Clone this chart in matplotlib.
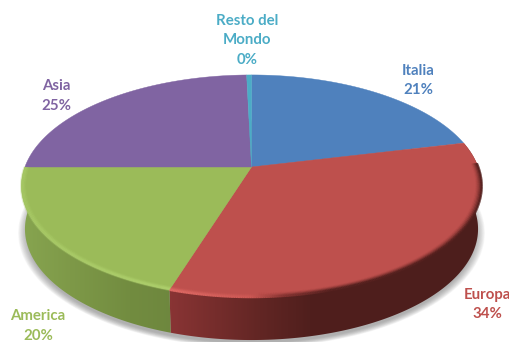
#!/usr/bin/env python3

# 3D style pie: perspective top face, shaded wall, soft shadow

import numpy as np
import matplotlib
matplotlib.use('Agg')
import matplotlib.pyplot as plt
from matplotlib.patches import Polygon
from matplotlib.collections import LineCollection

categories = ['Italia', 'Europa', 'America', 'Asia', 'Resto del\nMondo']
shares = [21.3, 33.6, 20.1, 24.6, 0.4]
face_colors = ['#4F81BD', '#BE504D', '#9BBB59', '#8064A2', '#4BACC6']

label_pos = [(418, 80.5), (487, 304.5), (38, 326), (56, 96), (247, 40.5)]

# wall colours along x for each slice that shows a wall
wall_stops = {
    'Europa': ([172, 215, 260, 310, 510],
               [(136, 52, 52), (118, 45, 44), (98, 38, 36), (80, 31, 29), (76, 30, 28)]),
    'America': ([20, 70, 130, 175],
                [(135, 165, 80), (126, 153, 72), (114, 140, 64), (110, 135, 62)]),
}
# colour the rim bevel fades to
lip_stops = {
    'Europa': ([172, 250, 285, 330, 510],
               [(222, 105, 100), (205, 88, 84), (130, 50, 48), (85, 33, 31), (80, 30, 28)]),
    'America': ([20, 175], [(172, 206, 106), (178, 212, 112)]),
}

CX, CY = 251.5, 167.0
A, B, K = 226.6, 107.8, 0.171
DEPTH = 43.0


def project(theta, r=1.0, shrink=1.0, drop=0.0):
    # theta in degrees, clockwise from the back of the disc
    t = np.radians(theta)
    u = r * np.sin(t)
    v = -r * np.cos(t)
    w = 1 - K * v
    return CX + shrink * A * u / w, CY + B * v / w + drop


def lerp_colors(x, stops):
    xs, cols = stops
    cols = np.array(cols, dtype=float) / 255
    return np.stack([np.interp(x, xs, cols[:, i]) for i in range(3)], axis=-1)


fig = plt.figure(figsize=(5.1, 3.42), dpi=100)
ax = fig.add_axes([0, 0, 1, 1])
ax.axis('off')

# soft shadow under the disc
th = np.linspace(0, 360, 361)
sx, sy = project(th, shrink=0.985, drop=DEPTH)
for grow in np.linspace(1.03, 0.99, 14):
    px = CX + (sx - CX) * grow
    py = CY + 60 + (sy - CY - 60) * grow + 4
    ax.fill(px, py, color='#707070', alpha=0.05, lw=0, zorder=1)

bounds = np.concatenate([[0], np.cumsum(shares)]) / np.sum(shares) * 360

# walls first, the top face covers whatever is behind it
xgrid = np.arange(0, 511)
for name, start, end in zip(categories, bounds[:-1], bounds[1:]):
    if name not in wall_stops:
        continue
    t = np.linspace(start, end, 200)
    tx, ty = project(t)
    bx, by = project(t, shrink=0.985, drop=DEPTH)
    pts = np.column_stack([np.r_[tx, bx[::-1]], np.r_[ty, by[::-1]]])
    grad = lerp_colors(xgrid, wall_stops[name])[np.newaxis, :, :]
    im = ax.imshow(grad, extent=[0, 510, 342, 0], aspect='auto', zorder=2)
    im.set_clip_path(Polygon(pts, closed=True, transform=ax.transData))

# top face
for name, start, end, col in zip(categories, bounds[:-1], bounds[1:], face_colors):
    t = np.linspace(start, end, 200)
    tx, ty = project(t)
    pts = np.column_stack([np.r_[CX, tx], np.r_[CY, ty]])
    ax.add_patch(Polygon(pts, closed=True, fc=col, ec=col, lw=0.3, zorder=3))

# bevel along the front rim
radii = [0.978, 0.983, 0.988, 0.993, 0.998, 1.002]
alphas = {'Europa': [0.05, 0.15, 0.3, 0.55, 0.85, 1.0],
          'America': [0.08, 0.2, 0.4, 0.6, 0.6, 0.35]}
for name, start, end in zip(categories, bounds[:-1], bounds[1:]):
    if name not in lip_stops:
        continue
    t = np.linspace(max(start, 88), min(end, 272), 300)
    for r, alpha in zip(radii, alphas[name]):
        lx, ly = project(t, r=r)
        seg = np.column_stack([lx, ly]).reshape(-1, 1, 2)
        seg = np.concatenate([seg[:-1], seg[1:]], axis=1)
        rgb = lerp_colors((lx[:-1] + lx[1:]) / 2, lip_stops[name])
        rgba = np.column_stack([rgb, np.full(len(rgb), alpha)])
        ax.add_collection(LineCollection(seg, colors=rgba, linewidths=1.3,
                                         capstyle='butt', zorder=4))

# slice labels
for name, val, col, (lx, ly) in zip(categories, shares, face_colors, label_pos):
    ax.text(lx, ly, '%s\n%d%%' % (name, round(val)), color=col, ha='center', va='center',
            family=['Lato', 'DejaVu Sans'], fontweight='bold', fontsize=10.8,
            linespacing=1.5, zorder=6)

ax.set_xlim(0, 510)
ax.set_ylim(342, 0)
fig.savefig('out.png', dpi=100, facecolor='white')
